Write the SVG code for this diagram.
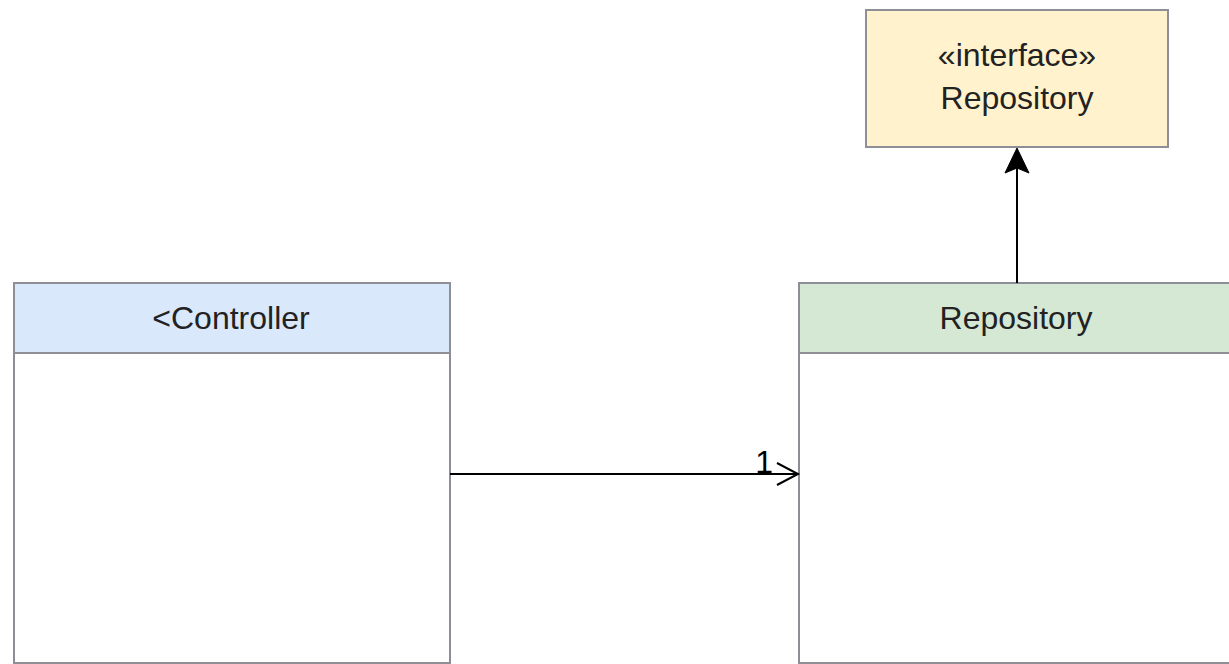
<svg xmlns="http://www.w3.org/2000/svg" width="1229" height="664" viewBox="0 0 1229 664">
<style>
.box{stroke:#8e8e96;stroke-width:2}
.body{fill:#ffffff}
.t{font-family:"Liberation Sans",Arial,sans-serif;font-size:32px;fill:#222;text-anchor:middle}
.edge{stroke:#000;stroke-width:2;fill:none}
</style>
<rect width="1229" height="664" fill="#fff"/>
<g id="interface-repository">
<rect class="box" x="866" y="10" width="302" height="137" fill="#fff2cc"/>
<text class="t" x="1017" y="66">«interface»</text>
<text class="t" x="1017" y="109">Repository</text>
</g>
<g id="controller">
<rect class="box body" x="14" y="283" width="436" height="380"/>
<rect class="box" x="14" y="283" width="436" height="70" fill="#dae8fc"/>
<text class="t" x="231" y="329">&lt;Controller</text>
</g>
<g id="repository">
<rect class="box body" x="799" y="283" width="436" height="380"/>
<rect class="box" x="799" y="283" width="436" height="70" fill="#d5e8d4"/>
<text class="t" x="1016" y="329">Repository</text>
</g>
<g id="connectors">
<path class="edge" d="M1017 283 V168"/>
<path d="M1017 148 L1029 173 L1017 168 L1005 173 Z" fill="#000" stroke="#000" stroke-width="1"/>
<path class="edge" d="M450 474 H797"/>
<path class="edge" d="M777 463 L798 474 L777 485"/>
<text x="773" y="473" style="font-family:'Liberation Sans',Arial,sans-serif;font-size:32px;fill:#000;text-anchor:end">1</text>
</g>
</svg>
